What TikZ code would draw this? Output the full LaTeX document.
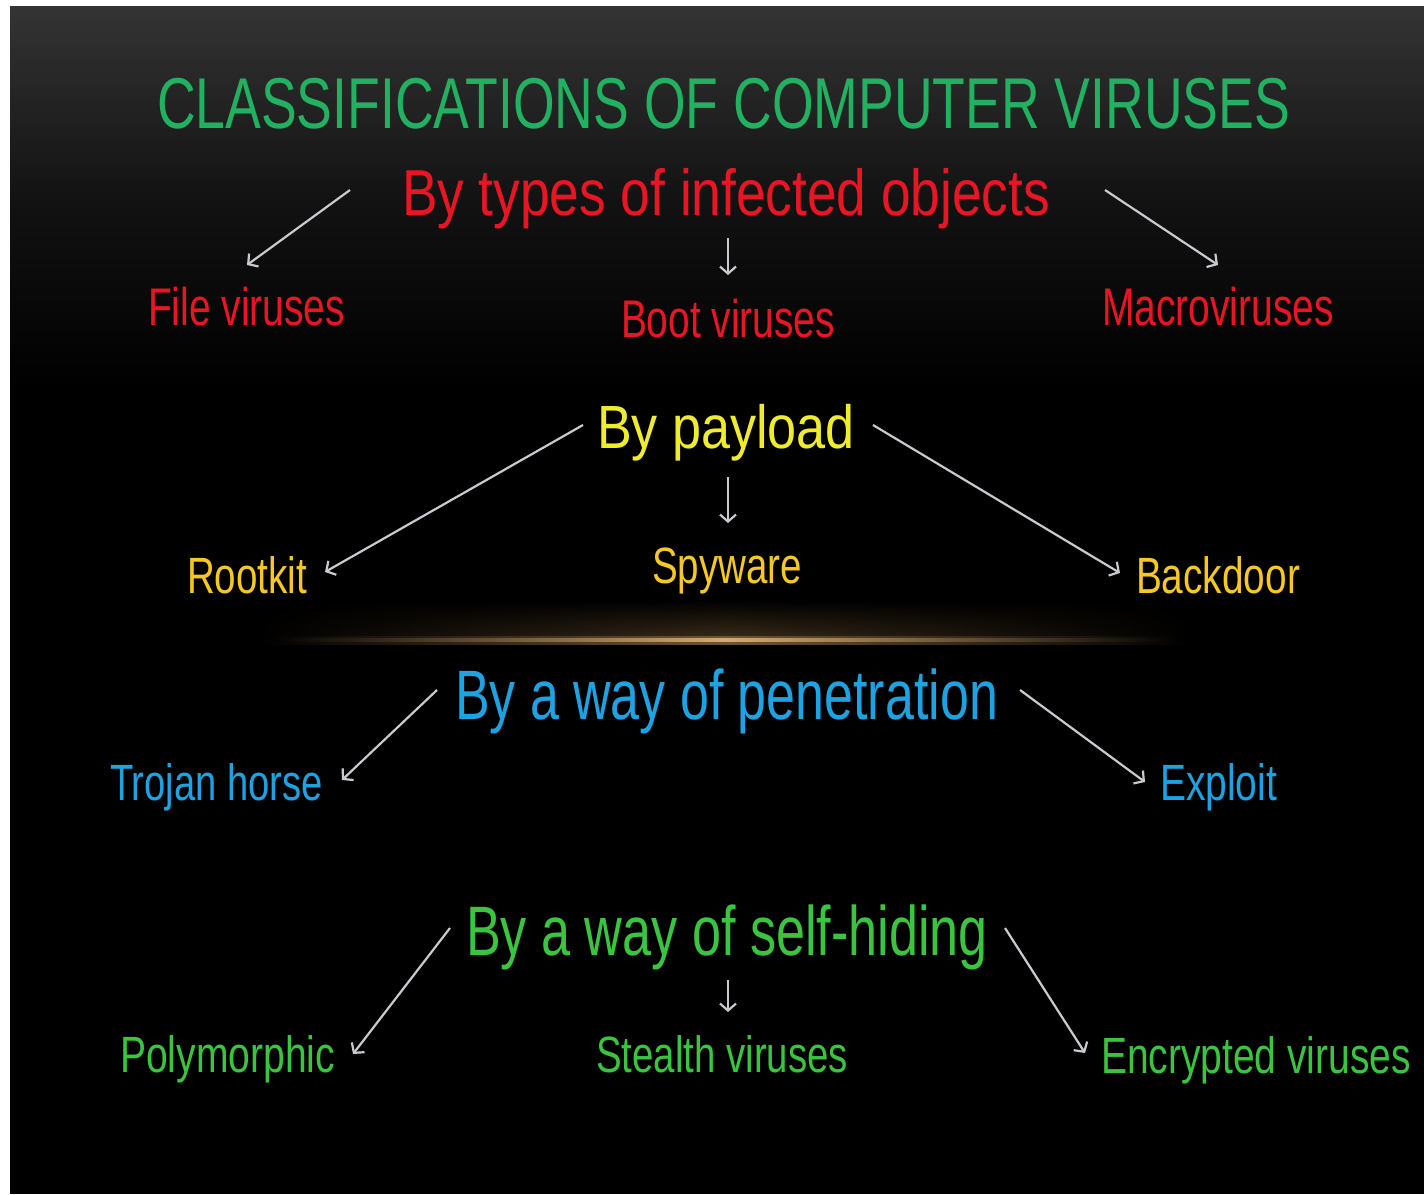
\documentclass[tikz,border=0pt]{standalone}
\usepackage{fontspec}
\usepackage{graphicx}
\setmainfont{Liberation Sans}
\usetikzlibrary{arrows.meta,fadings}
\definecolor{titlegreen}{RGB}{34,177,96}
\definecolor{vred}{RGB}{232,22,36}
\definecolor{vyellow}{RGB}{238,236,44}
\definecolor{vorange}{RGB}{246,200,36}
\definecolor{vblue}{RGB}{30,163,226}
\definecolor{vgreen}{RGB}{58,196,64}
\definecolor{arrowgray}{RGB}{200,202,206}
\definecolor{glow}{RGB}{214,170,110}
\newlength\fitlen
\newcommand\fitw[3]{{\fontsize{#2}{#2}\selectfont\settowidth\fitlen{#3}\pgfmathsetmacro\myscx{#1/\fitlen}\scalebox{\myscx}[1]{#3}}}
\tikzset{
  txt/.style={inner sep=0pt, outer sep=0pt, anchor=base west},
  arr/.style={draw=arrowgray, line width=2.2pt, -{Straight Barb[length=7pt,width=16pt,line width=2.2pt]}}
}
\begin{document}
\begin{tikzpicture}[x=1pt,y=-1pt]
\useasboundingbox (0,0) rectangle (1424,1194);
\fill[white] (0,0) rectangle (1424,1194);
\fill[black] (10,6) rectangle (1424,1194);
\shade[top color={rgb,255:red,52;green,52;blue,52}, bottom color={rgb,255:red,18;green,18;blue,18}] (10,6) rectangle (1424,200);
\shade[top color={rgb,255:red,18;green,18;blue,18}, bottom color=black] (10,200) rectangle (1424,390);
% glow line
\shade[left color=black, right color=black, middle color={rgb,255:red,60;green,45;blue,25}, path fading=north] (250,600) rectangle (1200,639);
\shade[left color=black, right color=black, middle color={rgb,255:red,110;green,85;blue,50}] (260,636) rectangle (1190,644);
\shade[left color=black, right color=black, middle color=glow] (270,638.5) rectangle (1180,641.5);

% headings and items
\node[txt] (title) at (157,128) {\color{titlegreen}\fitw{1133}{72}{CLASSIFICATIONS OF COMPUTER VIRUSES}};
\node[txt] (types) at (402,215) {\color{vred}\fitw{648}{65}{By types of infected objects}};
\node[txt] (file) at (148,325) {\color{vred}\fitw{197}{53}{File viruses}};
\node[txt] (boot) at (621,337) {\color{vred}\fitw{214}{53}{Boot viruses}};
\node[txt] (macro) at (1102,325) {\color{vred}\fitw{232}{53}{Macroviruses}};

\node[txt] (payload) at (597,448) {\color{vyellow}\fitw{258}{61}{By payload}};
\node[txt] (rootkit) at (187,593) {\color{vorange}\fitw{120}{51}{Rootkit}};
\node[txt] (spyware) at (652,583) {\color{vorange}\fitw{150}{51}{Spyware}};
\node[txt] (backdoor) at (1136,593) {\color{vorange}\fitw{164}{51}{Backdoor}};

\node[txt] (penet) at (455,719) {\color{vblue}\fitw{543}{70}{By a way of penetration}};
\node[txt] (trojan) at (110,800) {\color{vblue}\fitw{213}{51}{Trojan horse}};
\node[txt] (exploit) at (1160,800) {\color{vblue}\fitw{117}{51}{Exploit}};

\node[txt] (hiding) at (466,955) {\color{vgreen}\fitw{522}{70}{By a way of self-hiding}};
\node[txt] (poly) at (120,1072) {\color{vgreen}\fitw{215}{51}{Polymorphic}};
\node[txt] (stealth) at (596,1072) {\color{vgreen}\fitw{252}{51}{Stealth viruses}};
\node[txt] (encr) at (1101,1073) {\color{vgreen}\fitw{310}{51}{Encrypted viruses}};

% connector ends
\coordinate (a1s) at (350,190); \coordinate (a1e) at (247,265);
\coordinate (a2s) at (728,238); \coordinate (a2e) at (728,275);
\coordinate (a3s) at (1105,190); \coordinate (a3e) at (1218,265);
\coordinate (b1s) at (583,425); \coordinate (b1e) at (325,572);
\coordinate (b2s) at (728,477); \coordinate (b2e) at (728,523);
\coordinate (b3s) at (873,425); \coordinate (b3e) at (1120,573);
\coordinate (c1s) at (437,690); \coordinate (c1e) at (342,780);
\coordinate (c2s) at (1020,690); \coordinate (c2e) at (1145,782);
\coordinate (d1s) at (450,928); \coordinate (d1e) at (353,1054);
\coordinate (d2s) at (728,980); \coordinate (d2e) at (728,1012);
\coordinate (d3s) at (1005,928); \coordinate (d3e) at (1085,1053);

\draw[arr] (a1s) -- (a1e);
\draw[arr] (a2s) -- (a2e);
\draw[arr] (a3s) -- (a3e);
\draw[arr] (b1s) -- (b1e);
\draw[arr] (b2s) -- (b2e);
\draw[arr] (b3s) -- (b3e);
\draw[arr] (c1s) -- (c1e);
\draw[arr] (c2s) -- (c2e);
\draw[arr] (d1s) -- (d1e);
\draw[arr] (d2s) -- (d2e);
\draw[arr] (d3s) -- (d3e);
\end{tikzpicture}
\end{document}
